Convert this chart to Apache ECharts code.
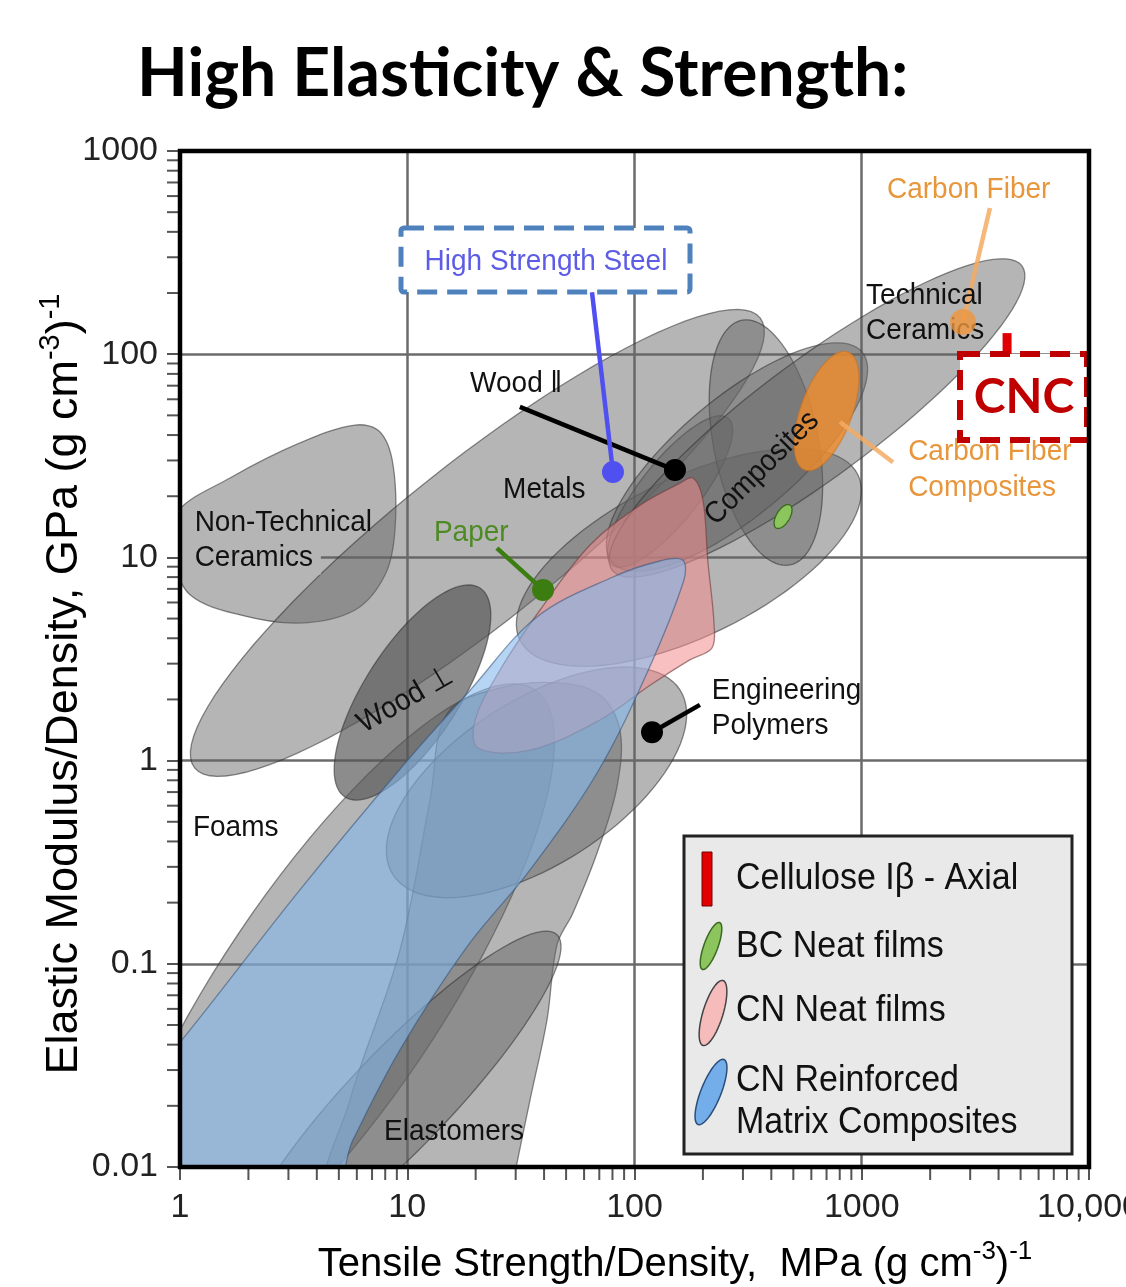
<!DOCTYPE html>
<html>
<head>
<meta charset="utf-8">
<title>High Elasticity & Strength</title>
<script src="https://cdn.jsdelivr.net/npm/echarts@6/dist/echarts.min.js"></script>
<style>
html, body { margin: 0; padding: 0; background: #fff; }
#main { width: 1126px; height: 1287px; }
</style>
</head>
<body>
<div id="main"></div>
<script>
// axis ticks
var xTickValues = [1, 10, 100, 1000, 10000];
var xTickLabels = ['1', '10', '100', '1000', '10,000'];
var yTickValues = [0.01, 0.1, 1, 10, 100, 1000];
var yTickLabels = ['0.01', '0.1', '1', '10', '100', '1000'];
var minorSteps = [2, 3, 4, 5, 6, 7, 8, 9];

// material envelopes: [x tip A, y tip A, x tip B, y tip B, width / length]
var foams = [0.573, 0.00221, 36.5, 2.23, 0.30];
var elastomers = [1.93, 0.00348, 45.6, 0.139, 0.22];
var metals = [1.16, 0.92, 357, 151, 0.22];
var engPolymers = [8.66, 0.274, 158.5, 2.23, 0.48];
var compositesLow = [31.3, 3.92, 962, 25.5, 0.42];
var compositesHigh = [297, 147, 483, 9.18, 0.42];
var woodPar = [79.6, 9.18, 258, 48.5, 0.32];
var composites = [79.6, 9.49, 1003, 102.5, 0.36];
var techCeramics = [79.6, 8.67, 5070, 272, 0.23];
var woodPerp = [5.32, 0.662, 20.9, 7.07, 0.38];
var bcFilms = [420, 13.95, 483, 18.1, 0.5];
var cfComposites = [562, 26.9, 871, 102.5, 0.41];

// envelopes given point by point
var nonTechCeramics = [[0.95, 16.2], [1.66, 24.6], [3.37, 36.6], [5.89, 44.8], [7.59, 41.4], [8.66, 28.5],
  [8.83, 13.6], [7.98, 8.19], [5.89, 5.51], [3.37, 4.75], [1.84, 5.21], [1.11, 6.53], [0.95, 9.71]];
var polymersLow = [[47, 2.41], [70.5, 2.10], [86.3, 1.415], [83.7, 0.741], [68.4, 0.351], [53.6, 0.178],
  [45.6, 0.124], [41.2, 0.0529], [34.7, 0.0214], [30.1, 0.0099], [28.3, 0.00689], [4.57, 0.00689],
  [5.6, 0.0214], [9.29, 0.117], [12.6, 0.64], [15, 1.71], [25.6, 2.28]];
var cnNeatFilms = [[181, 24.6], [200, 19.2], [210, 9.71], [224, 4.65], [219, 3.58], [175, 3.13], [117, 2.35],
  [70.5, 1.585], [34.7, 1.127], [20.5, 1.153], [19.9, 1.585], [25.6, 2.79], [38.4, 5.51], [63.7, 11.5],
  [106, 18.1], [158.5, 23.2]];
var cnComposites = [[163, 9.71], [165, 7.74], [113.5, 2.70], [68.4, 0.869], [34.7, 0.290], [18.3, 0.121],
  [9.29, 0.0377], [5.77, 0.0136], [4.57, 0.0077], [0.738, 0.0077], [0.738, 0.0284], [1.02, 0.0422],
  [3.37, 0.231], [9.97, 0.995], [18.9, 2.22], [37.2, 5.09], [80.4, 8.01], [129.5, 9.6]];

// cellulose I-beta axial: [x, y low, y high]
var celluloseAxial = [4360, 99, 127];
var carbonFiber = [[2790, 144]];

// callouts
var dotsBlack = [[150.7, 26.9], [119.4, 1.38]];
var dotSteel = [[80.4, 26.3]];
var dotPaper = [[39.6, 6.92]];
var leadersBlack = [[31.3, 55, 150.7, 26.9], [194, 1.88, 119.4, 1.38]];
var leaderSteel = [[65, 202, 80.4, 26.3]];
var leaderPaper = [[24.8, 11.1, 39.6, 6.92]];
var leadersOrange = [[3666, 524, 2790, 144], [1372, 29.4, 802, 46.4]];

var labelsBlack = [[18.9, 71.3, 'Wood \u2016'], [26.4, 21.5, 'Metals'], [1.16, 14.9, 'Non-Technical'],
  [1.14, 0.466, 'Foams'], [7.9, 0.015, 'Elastomers'], [219, 2.22, 'Engineering'],
  [219, 1.48, 'Polymers'], [1045, 195, 'Technical'], [1045, 131, 'Ceramics']];
var labelsBoxed = [[1.16, 10, 'Ceramics']];
var labelsRotated = [[9.78, 1.99, 'Wood \u22a5', 30], [364, 27.5, 'Composites', 45]];
var labelsPaper = [[13.1, 13.3, 'Paper']];
var labelsOrange = [[1291, 643, 'Carbon Fiber'], [1600, 33, 'Carbon Fiber'], [1600, 22, 'Composites']];

var FONT = '"Liberation Sans", Arial, sans-serif';
var grid = { left: 180, top: 151, right: 1089, bottom: 1167 };

var myChart = echarts.init(document.getElementById('main'));

function pickLabel(v, values, labels) {
  for (var i = 0; i < values.length; i++) {
    if (Math.abs(Math.log10(v) - Math.log10(values[i])) < 1e-6) return labels[i];
  }
  return '';
}

function ellipseSeries(region, fill, stroke) {
  return {
    type: 'custom', silent: true, clip: true,
    data: [region],
    encode: { x: [0, 2], y: [1, 3] },
    renderItem: function (params, api) {
      var a = api.coord([api.value(0), api.value(1)]);
      var b = api.coord([api.value(2), api.value(3)]);
      var dx = b[0] - a[0], dy = b[1] - a[1];
      var half = Math.sqrt(dx * dx + dy * dy) / 2;
      var minor = half * api.value(4);
      var ang = Math.atan2(dy, dx);
      var cx = (a[0] + b[0]) / 2, cy = (a[1] + b[1]) / 2;
      var pts = [];
      for (var i = 0; i < 96; i++) {
        var t = i / 96 * Math.PI * 2;
        var px = Math.cos(t) * half, py = Math.sin(t) * minor;
        pts.push([cx + px * Math.cos(ang) - py * Math.sin(ang), cy + px * Math.sin(ang) + py * Math.cos(ang)]);
      }
      return { type: 'polygon', shape: { points: pts }, style: { fill: fill, stroke: stroke, lineWidth: 1.3 } };
    }
  };
}

function outlineSeries(points, fill, stroke) {
  return {
    type: 'custom', silent: true, clip: true,
    data: points,
    encode: { x: 0, y: 1 },
    renderItem: function (params, api) {
      if (params.dataIndex !== 0) return;
      var pts = points.map(function (p) { return api.coord(p); });
      return { type: 'polygon', shape: { points: pts, smooth: 0.35 }, style: { fill: fill, stroke: stroke, lineWidth: 1.3 } };
    }
  };
}

function leaderSeries(lines, color) {
  return {
    type: 'custom', silent: true,
    data: lines,
    encode: { x: [0, 2], y: [1, 3] },
    renderItem: function (params, api) {
      var a = api.coord([api.value(0), api.value(1)]);
      var b = api.coord([api.value(2), api.value(3)]);
      return { type: 'line', shape: { x1: a[0], y1: a[1], x2: b[0], y2: b[1] }, style: { stroke: color, lineWidth: 4.5 } };
    }
  };
}

function dotSeries(points, color, size) {
  return { type: 'scatter', silent: true, data: points, symbolSize: size, itemStyle: { color: color, opacity: 1 } };
}

function labelSeries(list, color, align, bg) {
  return {
    type: 'custom', silent: true,
    data: list.map(function (l) { return [l[0], l[1]]; }),
    encode: { x: 0, y: 1 },
    renderItem: function (params, api) {
      var item = list[params.dataIndex];
      var p = api.coord([api.value(0), api.value(1)]);
      var style = { text: item[2], fill: color, font: '28px ' + FONT, align: align, verticalAlign: 'middle' };
      if (bg) {
        style.backgroundColor = bg;
        style.padding = [2, 8, 2, 15];
        return { type: 'text', x: p[0] - 15, y: p[1], scaleY: 1.08, style: style };
      }
      return {
        type: 'text', x: p[0], y: p[1],
        rotation: item[3] ? item[3] * Math.PI / 180 : 0,
        scaleY: 1.08,
        style: style
      };
    }
  };
}

// minor log ticks
var minorX = [], minorY = [];
xTickValues.slice(0, -1).forEach(function (d) { minorSteps.forEach(function (m) { minorX.push([d * m, 0.01]); }); });
yTickValues.slice(0, -1).forEach(function (d) { minorSteps.forEach(function (m) { minorY.push([1, d * m]); }); });

function minorTickSeries(points, vertical) {
  return {
    type: 'custom', silent: true, clip: false,
    data: points,
    encode: { x: 0, y: 1 },
    renderItem: function (params, api) {
      var p = api.coord([api.value(0), api.value(1)]);
      var shape = vertical ? { x1: p[0] - 13, y1: p[1], x2: p[0] - 1, y2: p[1] }
                           : { x1: p[0], y1: p[1] + 1, x2: p[0], y2: p[1] + 13 };
      return { type: 'line', shape: shape, style: { stroke: '#555', lineWidth: 2 } };
    }
  };
}

var gray = 'rgba(100,100,100,0.48)';
var grayEdge = 'rgba(45,45,45,0.55)';

var series = [
  ellipseSeries(foams, gray, grayEdge),
  outlineSeries(polymersLow, gray, grayEdge),
  ellipseSeries(elastomers, gray, grayEdge),
  outlineSeries(nonTechCeramics, gray, grayEdge),
  ellipseSeries(metals, gray, grayEdge),
  ellipseSeries(woodPerp, 'rgba(85,85,85,0.68)', grayEdge),
  ellipseSeries(engPolymers, gray, grayEdge),
  ellipseSeries(compositesLow, gray, grayEdge),
  ellipseSeries(woodPar, gray, grayEdge),
  ellipseSeries(compositesHigh, gray, grayEdge),
  ellipseSeries(composites, gray, grayEdge),
  ellipseSeries(techCeramics, gray, grayEdge),
  outlineSeries(cnNeatFilms, 'rgba(242,140,140,0.55)', 'rgba(110,60,60,0.6)'),
  outlineSeries(cnComposites, 'rgba(134,184,236,0.6)', 'rgba(50,80,120,0.55)'),
  ellipseSeries(bcFilms, '#8cc45e', '#3a6a20'),
  ellipseSeries(cfComposites, 'rgba(240,140,40,0.8)', 'rgba(200,110,30,0.5)'),
  dotSeries(carbonFiber, 'rgba(240,150,60,0.8)', 26),
  {
    type: 'custom', silent: true,
    data: [celluloseAxial],
    encode: { x: 0, y: [1, 2] },
    renderItem: function (params, api) {
      var lo = api.coord([api.value(0), api.value(1)]);
      var hi = api.coord([api.value(0), api.value(2)]);
      return { type: 'rect', shape: { x: lo[0] - 4.5, y: hi[1], width: 9, height: lo[1] - hi[1] }, style: { fill: '#e00000' } };
    }
  },
  leaderSeries(leadersBlack, '#000'),
  leaderSeries(leaderSteel, '#5050f0'),
  leaderSeries(leaderPaper, '#3c7d12'),
  leaderSeries(leadersOrange, 'rgba(245,170,100,0.85)'),
  dotSeries(dotsBlack, '#000', 22),
  dotSeries(dotSteel, '#5050f0', 22),
  dotSeries(dotPaper, '#3c7d12', 22),
  labelSeries(labelsBlack, '#111', 'left'),
  labelSeries(labelsBoxed, '#111', 'left', '#b5b5b5'),
  labelSeries(labelsRotated, '#111', 'center'),
  labelSeries(labelsPaper, '#4e8a23', 'left'),
  labelSeries(labelsOrange, '#e8963c', 'left'),
  minorTickSeries(minorX, false),
  minorTickSeries(minorY, true)
];

function leaf(cx, cy, rx, ry, rot) {
  var pts = [];
  for (var i = 0; i < 48; i++) {
    var t = i / 48 * Math.PI * 2;
    var px = Math.cos(t) * rx, py = Math.sin(t) * ry;
    pts.push([cx + px * Math.cos(rot) - py * Math.sin(rot), cy + px * Math.sin(rot) + py * Math.cos(rot)]);
  }
  return pts;
}

function supRich(size) {
  return {
    m: { fontSize: size, fontFamily: FONT, color: '#111', lineHeight: size + 6, verticalAlign: 'bottom' },
    s: { fontSize: Math.round(size * 0.65), fontFamily: FONT, color: '#111', lineHeight: size + 6, verticalAlign: 'top' }
  };
}

var graphics = [
  { type: 'text', x: 137, y: 75, style: { text: 'High Elasticity & Strength:', font: 'bold 66px Lato, "Open Sans", sans-serif', fill: '#000', verticalAlign: 'middle' } },
  { type: 'text', x: 675, y: 1262, style: { text: '{m|Tensile Strength/Density,  MPa (g cm}{s|-3}{m|)}{s|-1}', rich: supRich(40), align: 'center', verticalAlign: 'middle' } },
  { type: 'text', x: 62, y: 684, rotation: Math.PI / 2, style: { text: '{m|Elastic Modulus/Density, GPa (g cm}{s|-3}{m|)}{s|-1}', rich: supRich(45), align: 'center', verticalAlign: 'middle' } },
  { type: 'rect', z: 100, shape: { x: grid.left, y: grid.top, width: grid.right - grid.left, height: grid.bottom - grid.top }, style: { fill: null, stroke: '#000', lineWidth: 4.5 } },
  // high strength steel callout
  { type: 'rect', z: 90, shape: { x: 401, y: 228, width: 289, height: 64, r: 3 }, style: { fill: '#fff', stroke: '#4f81bd', lineWidth: 5, lineDash: [20, 10] } },
  { type: 'text', z: 91, x: 546, y: 262, scaleY: 1.08, style: { text: 'High Strength Steel', font: '28px ' + FONT, fill: '#5c5ce6', align: 'center', verticalAlign: 'middle' } },
  // CNC callout
  { type: 'rect', z: 90, shape: { x: 960, y: 354, width: 127, height: 86 }, style: { fill: '#fff', stroke: '#c00000', lineWidth: 6, lineDash: [20, 10] } },
  { type: 'text', z: 91, x: 1024, y: 398, style: { text: 'CNC', font: 'bold 48px Lato, sans-serif', fill: '#c00000', align: 'center', verticalAlign: 'middle' } },
  // legend
  { type: 'rect', z: 90, shape: { x: 684, y: 836, width: 388, height: 318 }, style: { fill: '#e9e9e9', stroke: '#222', lineWidth: 3 } },
  { type: 'rect', z: 91, shape: { x: 702, y: 852, width: 10, height: 54 }, style: { fill: '#e00000', stroke: '#700', lineWidth: 1 } },
  { type: 'polygon', z: 91, shape: { points: leaf(711, 946, 7, 25, 0.35) }, style: { fill: '#8cc45e', stroke: '#3a6a20', lineWidth: 1.5 } },
  { type: 'polygon', z: 91, shape: { points: leaf(713, 1013, 10, 34, 0.3) }, style: { fill: '#f6bcbc', stroke: '#444', lineWidth: 1.5 } },
  { type: 'polygon', z: 91, shape: { points: leaf(711, 1092, 10, 35, 0.38) }, style: { fill: '#73aeea', stroke: '#2a4d7a', lineWidth: 1.5 } },
  { type: 'text', z: 91, x: 736, y: 879, scaleY: 1.1, style: { text: 'Cellulose I\u03b2 - Axial', font: '34px ' + FONT, fill: '#111', verticalAlign: 'middle' } },
  { type: 'text', z: 91, x: 736, y: 947, scaleY: 1.1, style: { text: 'BC Neat films', font: '34px ' + FONT, fill: '#111', verticalAlign: 'middle' } },
  { type: 'text', z: 91, x: 736, y: 1011, scaleY: 1.1, style: { text: 'CN Neat films', font: '34px ' + FONT, fill: '#111', verticalAlign: 'middle' } },
  { type: 'text', z: 91, x: 736, y: 1081, scaleY: 1.1, style: { text: 'CN Reinforced', font: '34px ' + FONT, fill: '#111', verticalAlign: 'middle' } },
  { type: 'text', z: 91, x: 736, y: 1123, scaleY: 1.1, style: { text: 'Matrix Composites', font: '34px ' + FONT, fill: '#111', verticalAlign: 'middle' } }
];

var option = {
  animation: false,
  backgroundColor: '#fff',
  grid: {
    left: grid.left, top: grid.top, right: 1126 - grid.right, bottom: 1287 - grid.bottom,
    containLabel: false, outerBoundsMode: 'none'
  },
  xAxis: {
    type: 'log', logBase: 10, min: 1, max: 10000,
    axisLine: { show: false },
    axisTick: { show: true, inside: false, length: 13, lineStyle: { color: '#555', width: 2 } },
    axisLabel: { margin: 24, fontSize: 34, fontFamily: FONT, color: '#222',
      formatter: function (v) { return pickLabel(v, xTickValues, xTickLabels); } },
    splitLine: { show: true, lineStyle: { color: '#6b6b6b', width: 2.5 } }
  },
  yAxis: {
    type: 'log', logBase: 10, min: 0.01, max: 1000,
    axisLine: { show: false },
    axisTick: { show: true, inside: false, length: 13, lineStyle: { color: '#555', width: 2 } },
    axisLabel: { margin: 22, fontSize: 34, fontFamily: FONT, color: '#222',
      formatter: function (v) { return pickLabel(v, yTickValues, yTickLabels); } },
    splitLine: { show: true, lineStyle: { color: '#6b6b6b', width: 2.5 } }
  },
  graphic: graphics,
  series: series
};

myChart.setOption(option);
</script>
</body>
</html>
